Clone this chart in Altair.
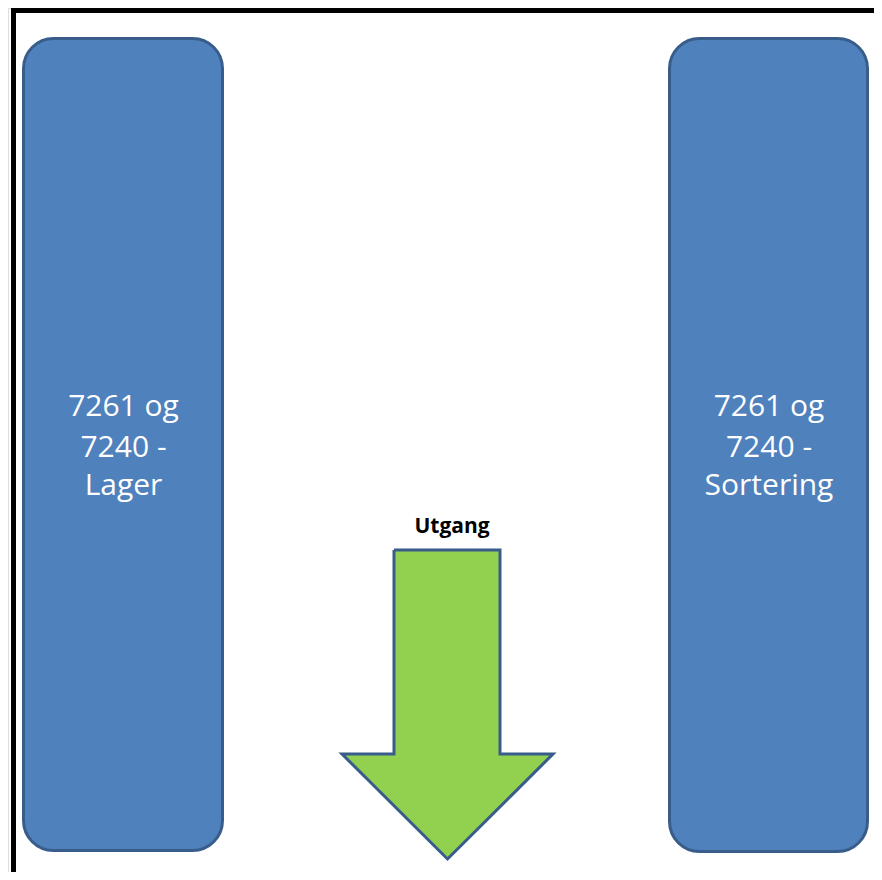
import altair as alt
import pandas as pd

# Diagram geometry (picture coordinates, pixels)
box_names = ["Lager", "Sortering"]
box_x1 = [23.5, 669.5]
box_x2 = [222.5, 867.5]
box_y1 = [38.5, 38.5]
box_y2 = [850.5, 851.5]

label_lines = [
    ["7261 og", "7240 -", "Lager"],
    ["7261 og", "7240 -", "Sortering"],
]
label_cx = [123.5, 769]
label_baselines = [416, 457, 495]

arrow_x = [394, 500, 500, 553, 447.5, 342, 394, 394]
arrow_y = [550, 550, 754, 754, 859, 754, 754, 550]
arrow_label = "Utgang"
arrow_label_pos = (452, 533)

frame_x = [13.5, 900]
frame_y = [10.5, 900]

W, H = 866, 864
xs = alt.Scale(domain=[8, 8 + W], nice=False, zero=False)
ys = alt.Scale(domain=[8, 8 + H], nice=False, zero=False, reverse=True)

boxes = pd.DataFrame({"name": box_names, "x1": box_x1, "x2": box_x2,
                      "y1": box_y1, "y2": box_y2})
rows = []
for cx, lines in zip(label_cx, label_lines):
    for yb, t in zip(label_baselines, lines):
        rows.append({"x": cx, "y": yb, "t": t})
labels = pd.DataFrame(rows)
arrow = pd.DataFrame({"i": list(range(len(arrow_x))), "x": arrow_x, "y": arrow_y})
alab = pd.DataFrame({"x": [arrow_label_pos[0]], "y": [arrow_label_pos[1]], "t": [arrow_label]})
frame = pd.DataFrame({"x1": [frame_x[0]], "x2": [frame_x[1]], "y1": [frame_y[0]], "y2": [frame_y[1]]})

noax = dict(axis=None)

frame_l = alt.Chart(frame).mark_rect(fill=None, filled=False, stroke="black", strokeWidth=5, clip=True).encode(
    x=alt.X("x1:Q", scale=xs, **noax), x2="x2:Q",
    y=alt.Y("y1:Q", scale=ys, **noax), y2="y2:Q")

box_l = alt.Chart(boxes).mark_rect(fill="#4f81bd", stroke="#385d8a", strokeWidth=3, cornerRadius=30).encode(
    x=alt.X("x1:Q", scale=xs, **noax), x2="x2:Q",
    y=alt.Y("y1:Q", scale=ys, **noax), y2="y2:Q")

text_l = alt.Chart(labels).mark_text(font="Open Sans", fontSize=30, color="white",
                                      align="center", baseline="alphabetic").encode(
    x=alt.X("x:Q", scale=xs, **noax), y=alt.Y("y:Q", scale=ys, **noax), text="t:N")

arrow_l = alt.Chart(arrow).mark_line(fill="#92d050", stroke="#385d8a", strokeWidth=3,
                                     strokeJoin="miter").encode(
    x=alt.X("x:Q", scale=xs, **noax), y=alt.Y("y:Q", scale=ys, **noax), order="i:Q")

alab_l = alt.Chart(alab).mark_text(font="Open Sans", fontSize=21, fontWeight="bold", color="black",
                                   align="center", baseline="alphabetic").encode(
    x=alt.X("x:Q", scale=xs, **noax), y=alt.Y("y:Q", scale=ys, **noax), text="t:N")

chart = alt.layer(box_l, arrow_l, text_l, alab_l, frame_l).properties(
    width=W, height=H, autosize=alt.AutoSizeParams(type="none"), padding=0
).configure_view(stroke=None).configure(background="white")

chart.save("out.html", embed_options={"renderer": "svg", "actions": False})
